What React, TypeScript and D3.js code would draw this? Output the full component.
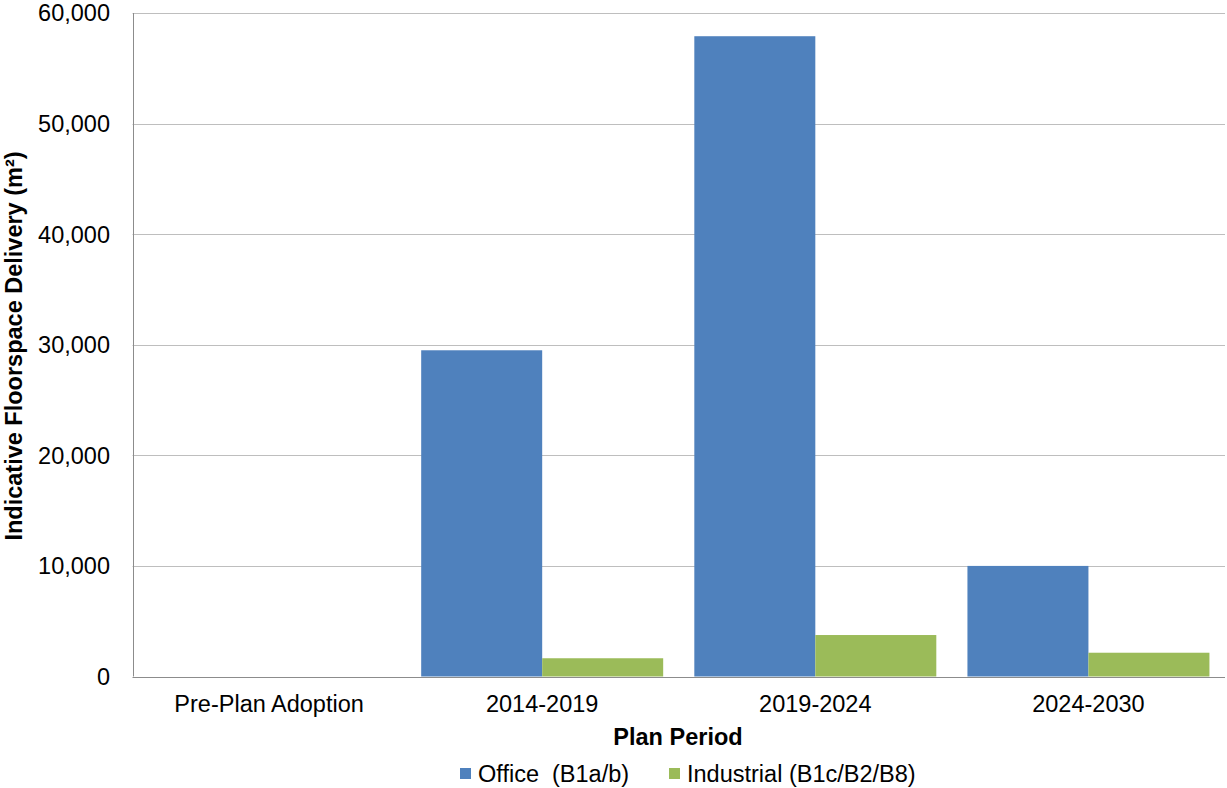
import React, { useEffect, useRef } from "react";
import * as d3 from "d3";

const categories = ["Pre-Plan Adoption", "2014-2019", "2019-2024", "2024-2030"];
const officeValues = [0, 29500, 57900, 10000];
const industrialValues = [0, 1650, 3750, 2150];
const seriesNames = ["Office  (B1a/b)", "Industrial (B1c/B2/B8)"];
const seriesColors = ["#4F81BD", "#9BBB59"];
const yTicks = [0, 10000, 20000, 30000, 40000, 50000, 60000];

const W = 1227;
const H = 788;
const M = { left: 132.5, right: 2, top: 13, bottom: 111.5 };
const FONT = "'Liberation Sans', Arial, sans-serif";
const FS = 23.5;

export default function App() {
  const ref = useRef<SVGSVGElement | null>(null);

  useEffect(() => {
    const svg = d3.select(ref.current);
    svg.selectAll("*").remove();

    const x0 = d3
      .scaleBand<string>()
      .domain(categories)
      .range([M.left, W - M.right])
      .paddingInner(0.114)
      .paddingOuter(0.057);
    const x1 = d3.scaleBand<number>().domain([0, 1]).range([0, x0.bandwidth()]);
    const y = d3.scaleLinear().domain([0, 60000]).range([H - M.bottom, M.top]);

    // gridlines
    svg
      .append("g")
      .selectAll("line")
      .data(yTicks.filter((t) => t > 0))
      .join("line")
      .attr("x1", M.left)
      .attr("x2", W - M.right)
      .attr("y1", (d) => Math.round(y(d)) + 0.5)
      .attr("y2", (d) => Math.round(y(d)) + 0.5)
      .attr("stroke", "#BEBEBE")
      .attr("stroke-width", 1);

    // bars
    const series = [officeValues, industrialValues];
    const g = svg.append("g");
    series.forEach((vals, si) => {
      g.append("g")
        .selectAll("rect")
        .data(vals.map((v, i) => ({ v, c: categories[i] })))
        .join("rect")
        .attr("x", (d) => (x0(d.c) as number) + (x1(si) as number))
        .attr("width", x1.bandwidth())
        .attr("y", (d) => y(d.v))
        .attr("height", (d) => y(0) - y(d.v))
        .attr("fill", seriesColors[si]);
    });

    // axes lines
    const yAxisX = Math.round(M.left) + 0.5;
    svg
      .append("line")
      .attr("x1", yAxisX)
      .attr("x2", yAxisX)
      .attr("y1", M.top)
      .attr("y2", y(0))
      .attr("stroke", "#8C8C8C");
    svg
      .append("line")
      .attr("x1", M.left)
      .attr("x2", W - M.right)
      .attr("y1", Math.round(y(0)) + 0.5)
      .attr("y2", Math.round(y(0)) + 0.5)
      .attr("stroke", "#8C8C8C");

    // y tick labels
    const fmt = d3.format(",");
    svg
      .append("g")
      .selectAll("text")
      .data(yTicks)
      .join("text")
      .attr("x", 110)
      .attr("y", (d) => y(d))
      .attr("dy", "0.36em")
      .attr("text-anchor", "end")
      .attr("font-family", FONT)
      .attr("font-size", FS)
      .attr("fill", "#000")
      .text((d) => fmt(d));

    // x tick labels
    svg
      .append("g")
      .selectAll("text")
      .data(categories)
      .join("text")
      .attr("x", (d) => (x0(d) as number) + x0.bandwidth() / 2)
      .attr("y", 712)
      .attr("text-anchor", "middle")
      .attr("font-family", FONT)
      .attr("font-size", FS)
      .attr("fill", "#000")
      .text((d) => d);

    // axis titles
    svg
      .append("text")
      .attr("x", 678)
      .attr("y", 745)
      .attr("text-anchor", "middle")
      .attr("font-family", FONT)
      .attr("font-size", FS)
      .attr("font-weight", "bold")
      .text("Plan Period");

    svg
      .append("text")
      .attr("transform", `translate(22,${346}) rotate(-90)`)
      .attr("text-anchor", "middle")
      .attr("font-family", FONT)
      .attr("font-size", FS)
      .attr("font-weight", "bold")
      .text("Indicative Floorspace Delivery (m²)");

    // legend
    const legendX = [460, 669];
    const lg = svg.append("g");
    seriesNames.forEach((name, i) => {
      lg.append("rect")
        .attr("x", legendX[i])
        .attr("y", 768)
        .attr("width", 11)
        .attr("height", 11)
        .attr("fill", seriesColors[i]);
      lg.append("text")
        .attr("x", legendX[i] + 18)
        .attr("y", 782)
        .attr("font-family", FONT)
        .attr("font-size", FS)
        .attr("fill", "#000")
        .style("white-space", "pre")
        .attr("xml:space", "preserve")
        .text(name);
    });
  }, []);

  return (
    <svg
      ref={ref}
      width={W}
      height={H}
      style={{ position: "absolute", left: 0, top: 0, background: "#fff" }}
    />
  );
}
